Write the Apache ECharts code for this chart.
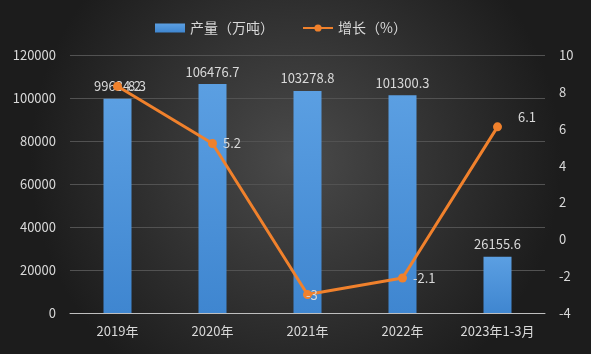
<!DOCTYPE html>
<html><head><meta charset="utf-8">
<script src="https://cdn.jsdelivr.net/npm/echarts@6/dist/echarts.min.js"></script>
<style>html,body{margin:0;padding:0;background:#2a2a2a}#c{width:591px;height:354px}</style>
</head><body><div id="c"></div>
<script>
const categories = ['2019年','2020年','2021年','2022年','2023年1-3月'];
const production = [99634.2, 106476.7, 103278.8, 101300.3, 26155.6];
const growth = [8.3, 5.2, -3, -2.1, 6.1];
const leftTicks = [0, 20000, 40000, 60000, 80000, 100000, 120000];
const rightTicks = [-4, -2, 0, 2, 4, 6, 8, 10];

const chart = echarts.init(document.getElementById('c'));
const txt = '#d9d9d9';
const font = '"Noto Sans CJK SC", "Noto Sans", sans-serif';
chart.setOption({
  backgroundColor: {type:'radial', x:0.5, y:0.45, r:0.75, colorStops:[{offset:0,color:'#4a4a4a'},{offset:1,color:'#1c1c1c'}]},
  textStyle:{fontFamily:font},
  animation:false,
  legend:{
    top:16, left:150, itemGap:28, itemWidth:30, itemHeight:9,
    textStyle:{color:txt, fontSize:14, fontFamily:font},
    data:[{name:'产量（万吨）', icon:'rect'}, {name:'增长（%）'}]
  },
  grid:{left:70, right:46, top:55, bottom:41, containLabel:false},
  xAxis:{
    type:'category', data:categories,
    axisLine:{lineStyle:{color:'#bfbfbf', width:1}},
    axisTick:{show:false},
    axisLabel:{color:txt, fontSize:13, margin:12, interval:0}
  },
  yAxis:[{
    type:'value', min:leftTicks[0], max:leftTicks[leftTicks.length-1], interval:20000,
    axisLine:{show:false}, axisTick:{show:false},
    axisLabel:{color:txt, fontSize:13, margin:14, formatter:function(v){return String(v);}},
    splitLine:{lineStyle:{color:'#525252', width:1}}
  },{
    type:'value', min:rightTicks[0], max:rightTicks[rightTicks.length-1], interval:2,
    axisLine:{show:false}, axisTick:{show:false},
    axisLabel:{color:txt, fontSize:13, margin:14},
    splitLine:{show:false}
  }],
  series:[{
    name:'产量（万吨）', type:'bar', data:production, barWidth:28,
    itemStyle:{color:{type:'linear',x:0,y:0,x2:0,y2:1,colorStops:[{offset:0,color:'#5b9fe2'},{offset:1,color:'#3f86d0'}]}},
    label:{show:true, position:'top', color:txt, fontSize:13, distance:6}
  },{
    name:'增长（%）', type:'line', yAxisIndex:1, data:growth,
    symbol:'circle', symbolSize:9,
    lineStyle:{color:'#f0812c', width:3},
    itemStyle:{color:'#f0812c'},
    label:{show:true, position:'right', color:txt, fontSize:13, distance:6},
    labelLayout:function(p){
      if(p.dataIndex===4){return {dx:10, dy:-10};}
      if(p.dataIndex===2){return {dx:-12, dy:0};}
      return {};
    },
    labelLine:{show:false}
  }]
});
</script></body></html>
